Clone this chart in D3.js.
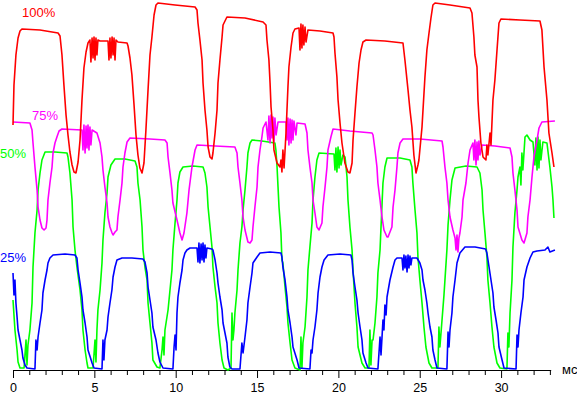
<!DOCTYPE html>
<meta charset="utf-8">
<style>
body{margin:0;background:#fff}
svg{display:block}
.trace{fill:none;stroke-width:1.6;stroke-linejoin:round}
text{font-family:"Liberation Sans",Arial,sans-serif}
</style>
<body>
<script src="https://d3js.org/d3.v7.min.js"></script>
<script>

var width = 577,
    height = 396;

// [time, ms ; relative brightness]
var t100 = [[0,246],[0.06,286],[0.18,316],[0.31,333],[0.43,340],[0.55,342],[1.66,341],[2.77,338],
  [2.89,335],[3.01,316],[3.13,286],[3.26,256],[3.38,236],[3.5,219],[3.63,206],[3.75,199],[3.87,198],
  [4,209],[4.12,231],[4.24,271],[4.36,303],[4.49,319],[4.61,328],[4.73,331],[4.79,309],[4.86,333],[4.92,313],[4.98,334],[5.04,311],[5.1,333],[5.16,316],[5.22,331],[5.35,330],[5.84,330],[5.9,311],[5.96,333],[6.02,313],[6.09,334],[6.15,316],[6.21,333],[6.27,311],[6.33,331],[6.45,329],[7.01,328],
  [7.07,325],[7.19,313],[7.31,296],[7.44,266],[7.56,236],[7.68,216],[7.8,203],[7.93,198],
  [8.05,208],[8.17,241],[8.3,281],[8.42,316],[8.54,334],[8.67,356],[8.79,366],[8.91,368],[9.96,366],[11.19,364],
  [11.31,361],[11.37,348],[11.49,331],[11.62,311],[11.68,288],[11.8,261],[11.92,241],[11.99,224],[12.11,214],[12.23,212],
  [12.29,218],[12.42,238],[12.54,261],[12.6,288],[12.72,311],[12.85,334],[12.91,346],[13.15,354],[14.26,353],[15.37,349],
  [15.55,346],[15.61,331],[15.73,311],[15.8,288],[15.86,264],[15.98,241],[16.04,221],[16.23,208],[16.41,204],[16.47,211],[16.53,199],[16.59,221],[16.66,203],
  [16.78,238],[16.84,261],[16.9,284],[16.96,304],[17.09,324],[17.21,338],[17.33,342],[17.58,343],[17.64,321],[17.7,347],[17.76,323],[17.82,346],[17.88,326],[17.95,344],[18.01,329],[18.13,341],[18.87,340],[19.67,338],
  [19.73,334],[19.79,318],[19.91,294],[19.98,271],[20.1,248],[20.22,228],[20.4,208],[20.59,199],[20.71,198],
  [20.84,208],[20.9,231],[21.02,258],[21.14,284],[21.27,308],[21.39,321],[21.51,329],[21.7,331],[22.86,330],[23.97,328],
  [24.09,311],[24.28,281],[24.4,261],[24.52,244],[24.64,216],[24.77,198],
  [24.89,206],[24.95,211],[25.14,244],[25.32,294],[25.44,321],[25.57,338],[25.69,353],[25.81,366],[25.94,368],[26.86,366],[28.09,363],
  [28.21,358],[28.33,334],[28.39,316],[28.52,304],[28.58,271],[28.64,254],[28.76,228],[28.89,214],[29.07,211],
  [29.13,226],[29.19,216],[29.32,238],[29.38,226],[29.5,271],[29.62,291],[29.75,321],[29.87,348],[29.99,352],[31.16,351],[32.39,350],
  [32.51,341],[32.64,304],[32.82,271],[32.94,238],[33.13,218],[33.25,204]];

var t75 = [[0,249],[1.04,248],[1.17,241],[1.23,228],[1.35,204],[1.48,181],[1.54,164],[1.66,151],[1.78,143],[1.91,141],[2.03,143],[2.09,151],[2.15,171],[2.27,188],[2.4,204],[2.46,218],[2.58,228],[2.7,234],[2.83,240],[3.01,242],[4.24,241],[4.3,221],[4.36,246],[4.43,218],[4.49,245],[4.55,223],[4.61,246],[4.67,221],[4.73,244],[4.79,226],[4.86,241],[5.16,238],
  [5.35,228],[5.47,214],[5.53,201],[5.65,184],[5.78,168],[5.84,154],[5.96,144],[6.09,138],[6.15,136],[6.27,139],[6.39,141],
  [6.45,154],[6.58,171],[6.7,188],[6.76,204],[6.88,218],[7.01,229],[7.19,233],[8.42,232],[9.34,231],
  [9.47,228],[9.53,214],[9.65,198],[9.77,181],[9.83,168],[10.08,151],[10.26,138],[10.39,131],
  [10.51,138],[10.69,158],[10.82,181],[11,204],[11.19,221],[11.31,226],[12.42,225],[13.64,224],
  [13.77,218],[13.83,204],[13.95,188],[14.07,171],[14.14,154],[14.26,141],[14.44,129],[14.57,128],
  [14.69,131],[14.75,144],[14.87,164],[15,184],[15.06,204],[15.18,221],[15.3,234],[15.37,243],[15.55,249],[15.67,231],[15.73,255],[15.8,228],[15.86,256],[15.92,233],[15.98,254],[16.04,229],[16.1,253],[16.17,236],[16.29,249],[16.78,249],[16.84,231],[16.9,253],[16.96,226],[17.03,252],[17.09,228],[17.15,251],[17.21,231],[17.27,250],[17.39,236],[17.46,248],[17.95,247],
  [18.07,238],[18.13,221],[18.25,204],[18.38,188],[18.44,171],[18.56,158],[18.68,144],[18.81,141],
  [18.99,148],[19.05,164],[19.18,184],[19.3,204],[19.36,221],[19.54,234],[19.67,242],[20.71,240],[22.07,238],
  [22.13,236],[22.25,221],[22.37,204],[22.43,188],[22.56,171],[22.68,154],[22.8,141],[22.99,134],[23.05,134],
  [23.29,144],[23.36,164],[23.48,181],[23.6,204],[23.66,218],[23.79,228],[23.97,232],[25.02,232],[26.37,230],
  [26.43,224],[26.55,204],[26.67,188],[26.74,171],[26.86,154],[27.04,141],[27.17,133],[27.23,121],[27.29,136],[27.35,119],[27.41,133],
  [27.47,138],[27.6,154],[27.66,171],[27.84,188],[27.97,208],[28.09,221],[28.27,228],[28.33,211],[28.39,231],[28.46,206],[28.52,229],[28.58,211],[28.64,230],[28.7,216],[28.83,226],[29.62,225],[30.55,223],
  [30.67,214],[30.73,198],[30.85,181],[30.98,161],[31.04,144],[31.28,131],[31.41,128],
  [31.59,138],[31.65,154],[31.78,171],[31.9,194],[32.02,214],[32.21,231],[32.33,243],[32.51,249],[33.31,250]];

var t50 = [[0,71],[0.12,41],[0.25,21],[0.31,9],[0.43,3],[0.68,3],[0.8,31],[0.86,6],[0.92,26],[1.04,41],[1.17,68],[1.23,104],[1.35,138],[1.48,161],[1.54,181],[1.66,198],[1.78,211],[1.97,219],[2.58,219],[3.32,218],
  [3.38,214],[3.5,198],[3.63,171],[3.69,144],[3.81,121],[3.93,104],[4.12,81],[4.24,61],[4.3,41],[4.43,21],[4.55,8],[4.61,3],[4.92,3],
  [5.04,31],[5.1,9],[5.16,41],[5.22,61],[5.35,81],[5.47,108],[5.53,131],[5.65,158],[5.78,178],[5.84,194],[6.02,206],[6.27,212],[6.88,212],[7.5,210],
  [7.62,204],[7.68,188],[7.81,171],[7.93,144],[7.99,121],[8.11,104],[8.24,91],[8.3,68],[8.42,48],[8.54,28],[8.6,11],[8.85,4],[9.03,3],
  [9.16,21],[9.22,34],[9.28,16],[9.34,41],[9.53,61],[9.65,81],[9.77,101],[9.83,121],[9.96,148],[10.08,171],[10.14,188],[10.26,199],[10.45,204],[11.06,205],[11.68,204],
  [11.8,198],[11.92,184],[11.99,164],[12.11,144],[12.23,124],[12.29,104],[12.42,84],[12.54,68],[12.6,48],[12.72,28],[12.85,11],[12.97,3],[13.21,1],[13.4,3],[13.46,58],[13.52,31],[13.58,41],
  [13.64,58],[13.77,81],[13.83,101],[13.95,128],[14.07,144],[14.14,161],[14.26,181],[14.38,204],[14.44,218],[14.57,228],[14.69,231],[15.3,230],[16.1,228],
  [16.16,221],[16.23,204],[16.29,184],[16.35,164],[16.47,138],[16.53,111],[16.59,108],[16.72,84],[16.84,64],[16.9,48],[17.03,28],[17.15,11],[17.33,3],[17.64,1],[17.7,34],[17.76,3],[17.82,28],
  [17.95,44],[18.07,74],[18.13,101],[18.25,124],[18.38,148],[18.44,171],[18.56,194],[18.68,211],[18.81,218],[19.73,217],[19.79,201],[19.85,223],[19.91,199],[19.98,224],[20.04,203],[20.1,221],[20.16,206],[20.28,216],
  [20.41,214],[20.53,194],[20.59,171],[20.71,144],[20.84,121],[20.9,101],[21.02,68],[21.14,44],[21.21,24],[21.45,8],[21.64,3],[21.88,3],[21.94,41],[22,6],[22.07,31],
  [22.13,31],[22.25,48],[22.37,74],[22.43,98],[22.56,121],[22.62,144],[22.74,188],[22.86,204],[22.99,213],[23.79,213],[24.4,211],
  [24.52,204],[24.58,188],[24.71,161],[24.83,138],[24.89,114],[25.01,91],[25.14,68],[25.26,44],[25.38,24],[25.57,8],[25.75,3],[26.12,3],[26.18,44],[26.24,24],
  [26.37,51],[26.49,76],[26.55,91],[26.67,121],[26.74,146],[26.86,171],[26.98,191],[27.17,203],[27.84,205],[28.52,204],
  [28.7,198],[28.83,181],[28.89,161],[29.01,138],[29.13,114],[29.19,91],[29.32,68],[29.44,44],[29.56,24],[29.75,8],[29.93,3],[30.36,2],[30.42,38],[30.48,24],
  [30.55,58],[30.67,91],[30.73,124],[30.85,158],[30.98,181],[31.04,194],[31.16,204],[31.22,186],[31.28,218],[31.34,201],[31.47,234],[31.59,236],[31.78,231],[31.96,229],[32.08,206],[32.14,233],[32.21,201],[32.27,234],[32.33,203],[32.39,231],[32.45,211],[32.57,229],[32.82,228],
  [33,204],[33.13,184],[33.19,171],[33.25,153]];

var t25 = [[0,98],[0.06,76],[0.12,91],[0.18,68],[0.25,54],[0.31,41],[0.43,31],[0.55,21],[0.61,13],[0.74,6],[0.86,3],[1.35,2],[1.41,31],[1.48,21],[1.54,34],[1.66,48],[1.78,61],[1.84,78],[1.97,91],[2.09,101],[2.15,108],[2.27,113],[2.46,116],[3.2,117],[3.81,116],
  [3.93,113],[4,101],[4.12,88],[4.24,74],[4.3,61],[4.43,48],[4.55,34],[4.61,21],[4.86,8],[4.98,3],[5.47,2],[5.53,31],[5.59,11],[5.65,31],[5.78,41],[5.84,54],[5.96,68],[6.08,81],[6.15,94],[6.27,104],[6.39,111],[6.7,113],[7.31,113],[7.99,112],
  [8.11,109],[8.24,98],[8.3,84],[8.42,71],[8.54,58],[8.6,44],[8.79,31],[8.91,18],[9.03,9],[9.22,3],[9.83,2],[9.9,24],[9.96,36],[10.02,21],[10.08,58],[10.14,74],[10.26,88],[10.39,101],[10.45,111],[10.57,118],[10.69,121],[10.88,123],[11.31,123],[11.37,109],[11.43,128],[11.49,108],[11.56,127],[11.62,111],[11.68,128],[11.74,109],[11.8,126],[11.86,113],[11.92,123],[12.23,122],
  [12.29,121],[12.42,111],[12.54,98],[12.6,88],[12.72,74],[12.85,61],[12.91,48],[13.03,38],[13.15,28],[13.21,14],[13.33,4],[13.46,2],[13.95,2],[14.07,28],[14.14,18],[14.26,34],[14.38,51],[14.44,68],[14.57,84],[14.69,98],[14.75,108],[15,114],[15.18,118],[15.8,119],[16.47,118],
  [16.53,114],[16.59,104],[16.72,91],[16.84,74],[16.9,61],[17.03,48],[17.15,34],[17.21,24],[17.46,11],[17.58,3],[18.25,2],[18.32,21],[18.38,18],[18.44,31],[18.56,44],[18.68,61],[18.75,78],[18.87,94],[18.99,104],[19.12,111],[19.36,116],[20.1,117],[20.77,116],
  [20.84,111],[20.9,98],[21.02,84],[21.14,71],[21.21,58],[21.33,44],[21.45,31],[21.51,18],[21.7,8],[21.82,3],[22.43,2],[22.56,34],[22.62,16],[22.74,51],[22.8,41],[22.86,66],[22.93,56],[22.99,74],[23.17,91],[23.36,104],[23.48,111],[23.6,113],[23.91,113],[23.97,101],[24.03,116],[24.09,103],[24.15,115],[24.22,99],[24.28,116],[24.34,103],[24.4,115],[24.46,106],[24.52,113],[24.83,113],
  [25.01,108],[25.14,101],[25.2,91],[25.32,81],[25.44,68],[25.51,58],[25.63,44],[25.75,34],[25.81,21],[25.94,11],[26.06,3],[26.67,2],[26.74,39],[26.8,24],[26.86,41],[26.98,58],[27.04,74],[27.17,91],[27.29,108],[27.47,118],[27.78,124],[28.4,124],[29.05,122],
  [29.13,118],[29.26,104],[29.38,91],[29.5,78],[29.56,64],[29.69,51],[29.81,38],[29.87,24],[30.06,11],[30.18,3],[30.92,2],[30.98,36],[31.04,24],[31.1,41],[31.22,58],[31.35,74],[31.41,91],[31.59,104],[31.78,113],[31.96,119],[32.21,120],[32.7,121],[32.88,124],[33,119],[33.31,121]];

var levels = ["100%", "75%", "50%", "25%"];
var colors = ["#ff0000", "#ff00ff", "#00ff00", "#0000ff"];
var tickLabels = [0, 5, 10, 15, 20, 25, 30];
var minorTicks = d3.range(0, 34);
var unit = "мс";

var svg = d3.select("body").append("svg")
    .attr("width", width)
    .attr("height", height);

svg.append("rect")
    .attr("width", width)
    .attr("height", height)
    .attr("fill", "#fff");

var x = d3.scaleLinear()
    .domain([0, 33.05])
    .range([13, 550.7]);

var y = d3.scaleLinear()
    .domain([0, 371])
    .range([371, 0]);

var line = d3.line()
    .x(d => x(d[0]))
    .y(d => y(d[1]));

// axis: small ticks each ms, longer ones with labels every 5 ms
svg.append("g")
    .attr("transform", "translate(0,370)")
    .call(d3.axisBottom(x)
        .tickValues(minorTicks.filter(d => tickLabels.indexOf(d) < 0))
        .tickSizeInner(5)
        .tickSizeOuter(0)
        .tickFormat(""));

var gx = svg.append("g")
    .attr("transform", "translate(0,370)")
    .call(d3.axisBottom(x)
        .tickValues(tickLabels)
        .tickSizeInner(8)
        .tickSizeOuter(0)
        .tickPadding(5));

gx.select(".domain").remove();
gx.attr("font-size", 12.5).attr("font-family", null);
gx.selectAll("text").attr("fill", "#000");

svg.append("text")
    .attr("x", 562)
    .attr("y", 374)
    .attr("font-size", 13)
    .text(unit);

// traces, lower levels first so red ends up on top
var traces = [t100, t75, t50, t25];
var order = [2, 3, 1, 0];

svg.selectAll(".trace")
    .data(order)
  .enter().append("path")
    .attr("class", "trace")
    .attr("stroke", i => colors[i])
    .attr("d", i => line(traces[i]));

// level labels
var labelPos = [[22, 17], [32, 120], [0, 158], [0, 262]];
svg.selectAll(".lvl")
    .data(levels)
  .enter().append("text")
    .attr("class", "lvl")
    .attr("x", (d, i) => labelPos[i][0])
    .attr("y", (d, i) => labelPos[i][1])
    .attr("font-size", 13)
    .attr("fill", (d, i) => colors[i])
    .text(d => d);

</script>
